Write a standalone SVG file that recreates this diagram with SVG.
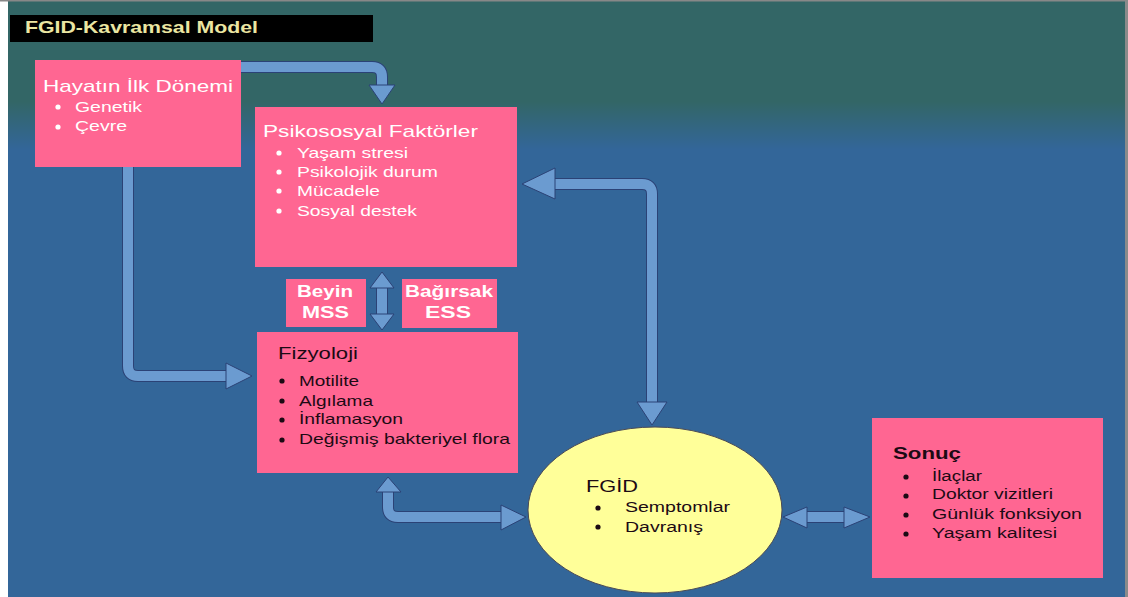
<svg xmlns="http://www.w3.org/2000/svg" width="1128" height="597" viewBox="0 0 1128 597">
<defs>
<linearGradient id="bg" x1="0" y1="0" x2="0" y2="1">
<stop offset="0" stop-color="#336666"/>
<stop offset="0.17" stop-color="#336666"/>
<stop offset="0.25" stop-color="#336699"/>
<stop offset="1" stop-color="#336699"/>
</linearGradient>
</defs>
<style>
text{font-family:"Liberation Sans",Arial,sans-serif;}
.box{fill:#ff6692;}
.w{fill:#ffffff;}
.d{fill:#1c0a14;}
.t{font-size:17px;}
.b{font-size:15px;}
.s{font-size:14px;}
.bold{font-weight:bold;}
.sh-o{fill:none;stroke:#2b4276;stroke-width:12;stroke-linejoin:round;}
.sh-i{fill:none;stroke:#6b9bd0;stroke-width:10;stroke-linejoin:round;}
.hd{fill:#6b9bd0;stroke:#2b4276;stroke-width:1;stroke-linejoin:round;}
</style>
<rect x="0" y="0" width="1128" height="597" fill="#ffffff"/>
<rect x="8" y="0" width="1120" height="597" fill="url(#bg)"/>
<rect x="0" y="0" width="1128" height="1.5" fill="#888888"/>
<rect x="1125" y="0" width="3" height="597" fill="#8a8a8a"/>

<g id="title">
<rect x="10" y="15" width="363" height="27" fill="#000000"/>
<text x="25" y="33" class="t bold" fill="#ebe6a2" textLength="233" lengthAdjust="spacingAndGlyphs">FGID-Kavramsal Model</text>
</g>

<g id="connectors">
<g id="c1">
<path class="sh-o" d="M241,67 H372 Q382,67 382,77 V87"/>
<path class="sh-i" d="M241,67 H372 Q382,67 382,77 V87"/>
<polygon class="hd" points="369,85 395,85 382,104"/>
</g>
<g id="c2">
<path class="sh-o" d="M128,167 V366 Q128,376 138,376 H227"/>
<path class="sh-i" d="M128,167 V366 Q128,376 138,376 H227"/>
<polygon class="hd" points="226,363 226,389 252,376"/>
</g>
<g id="c3">
<path class="sh-o" d="M554,184 H642 Q652,184 652,194 V404"/>
<path class="sh-i" d="M554,184 H642 Q652,184 652,194 V404"/>
<polygon class="hd" points="555,168 555,199 522,184"/>
<polygon class="hd" points="637,402 667,402 652,425"/>
</g>
<g id="c4">
<path class="sh-o" d="M382,286 V316"/>
<path class="sh-i" d="M382,286 V316"/>
<polygon class="hd" points="370,288 394,288 382,272"/>
<polygon class="hd" points="370,314 394,314 382,330"/>
</g>
<g id="c5">
<path class="sh-o" d="M388,490 V507 Q388,517 398,517 H502"/>
<path class="sh-i" d="M388,490 V507 Q388,517 398,517 H502"/>
<polygon class="hd" points="376,492 401,492 388,477"/>
<polygon class="hd" points="501,505 501,530 526,517"/>
</g>
<g id="c6">
<path class="sh-o" d="M805,517 H846"/>
<path class="sh-i" d="M805,517 H846"/>
<polygon class="hd" points="807,507 807,528 783,517"/>
<polygon class="hd" points="844,507 844,528 870,517"/>
</g>
</g>

<g id="hayatin">
<rect class="box" x="35" y="60" width="206" height="107"/>
<text x="43" y="92" class="t w" textLength="190" lengthAdjust="spacingAndGlyphs">Hayatın İlk Dönemi</text>
<circle cx="58" cy="107" r="2.6" fill="#ffffff"/>
<circle cx="58" cy="127" r="2.6" fill="#ffffff"/>
<text x="75" y="112" class="b w" textLength="67" lengthAdjust="spacingAndGlyphs">Genetik</text>
<text x="75" y="131" class="b w" textLength="52" lengthAdjust="spacingAndGlyphs">Çevre</text>
</g>

<g id="psikososyal">
<rect class="box" x="255" y="107" width="262" height="160"/>
<text x="263" y="137" class="t w" textLength="215" lengthAdjust="spacingAndGlyphs">Psikososyal Faktörler</text>
<circle cx="279" cy="153" r="2.6" fill="#ffffff"/>
<circle cx="279" cy="172" r="2.6" fill="#ffffff"/>
<circle cx="279" cy="191" r="2.6" fill="#ffffff"/>
<circle cx="279" cy="211" r="2.6" fill="#ffffff"/>
<text x="297" y="158" class="b w" textLength="111" lengthAdjust="spacingAndGlyphs">Yaşam stresi</text>
<text x="297" y="177" class="b w" textLength="141" lengthAdjust="spacingAndGlyphs">Psikolojik durum</text>
<text x="297" y="196" class="b w" textLength="83" lengthAdjust="spacingAndGlyphs">Mücadele</text>
<text x="297" y="216" class="b w" textLength="120" lengthAdjust="spacingAndGlyphs">Sosyal destek</text>
</g>

<g id="beyin">
<rect class="box" x="286" y="279" width="80" height="48"/>
<text x="297" y="297" class="t w bold" textLength="56" lengthAdjust="spacingAndGlyphs">Beyin</text>
<text x="302" y="318" class="t w bold" textLength="47" lengthAdjust="spacingAndGlyphs">MSS</text>
</g>

<g id="bagirsak">
<rect class="box" x="402" y="279" width="95" height="49"/>
<text x="405" y="297" class="t w bold" textLength="88" lengthAdjust="spacingAndGlyphs">Bağırsak</text>
<text x="425" y="318" class="t w bold" textLength="46" lengthAdjust="spacingAndGlyphs">ESS</text>
</g>

<g id="fizyoloji">
<rect class="box" x="257" y="332" width="261" height="141"/>
<text x="278" y="359" class="t d" textLength="80" lengthAdjust="spacingAndGlyphs">Fizyoloji</text>
<circle cx="282" cy="381" r="2.6" fill="#1c0a14"/>
<circle cx="282" cy="401" r="2.6" fill="#1c0a14"/>
<circle cx="282" cy="420" r="2.6" fill="#1c0a14"/>
<circle cx="282" cy="440" r="2.6" fill="#1c0a14"/>
<text x="299" y="386" class="b d" textLength="60" lengthAdjust="spacingAndGlyphs">Motilite</text>
<text x="299" y="406" class="b d" textLength="74" lengthAdjust="spacingAndGlyphs">Algılama</text>
<text x="299" y="424" class="b d" textLength="104" lengthAdjust="spacingAndGlyphs">İnflamasyon</text>
<text x="299" y="444" class="b d" textLength="211" lengthAdjust="spacingAndGlyphs">Değişmiş bakteriyel flora</text>
</g>

<g id="fgid">
<ellipse cx="655" cy="510" rx="127" ry="83" fill="#ffff99" stroke="#4a4a55" stroke-width="1"/>
<text x="586" y="492" class="t d" textLength="52" lengthAdjust="spacingAndGlyphs">FGİD</text>
<circle cx="598" cy="508" r="2.6" fill="#1c0a14"/>
<circle cx="598" cy="527" r="2.6" fill="#1c0a14"/>
<text x="625" y="512" class="s d" textLength="105" lengthAdjust="spacingAndGlyphs">Semptomlar</text>
<text x="625" y="532" class="s d" textLength="78" lengthAdjust="spacingAndGlyphs">Davranış</text>
</g>

<g id="sonuc">
<rect class="box" x="872" y="418" width="231" height="160"/>
<text x="893" y="459" class="t d bold" textLength="68" lengthAdjust="spacingAndGlyphs">Sonuç</text>
<circle cx="906" cy="477" r="2.6" fill="#1c0a14"/>
<circle cx="906" cy="496" r="2.6" fill="#1c0a14"/>
<circle cx="906" cy="515" r="2.6" fill="#1c0a14"/>
<circle cx="906" cy="534" r="2.6" fill="#1c0a14"/>
<text x="932" y="481" class="s d" textLength="50" lengthAdjust="spacingAndGlyphs">İlaçlar</text>
<text x="932" y="499" class="s d" textLength="121" lengthAdjust="spacingAndGlyphs">Doktor vizitleri</text>
<text x="932" y="519" class="s d" textLength="150" lengthAdjust="spacingAndGlyphs">Günlük fonksiyon</text>
<text x="932" y="538" class="s d" textLength="125" lengthAdjust="spacingAndGlyphs">Yaşam kalitesi</text>
</g>
</svg>
